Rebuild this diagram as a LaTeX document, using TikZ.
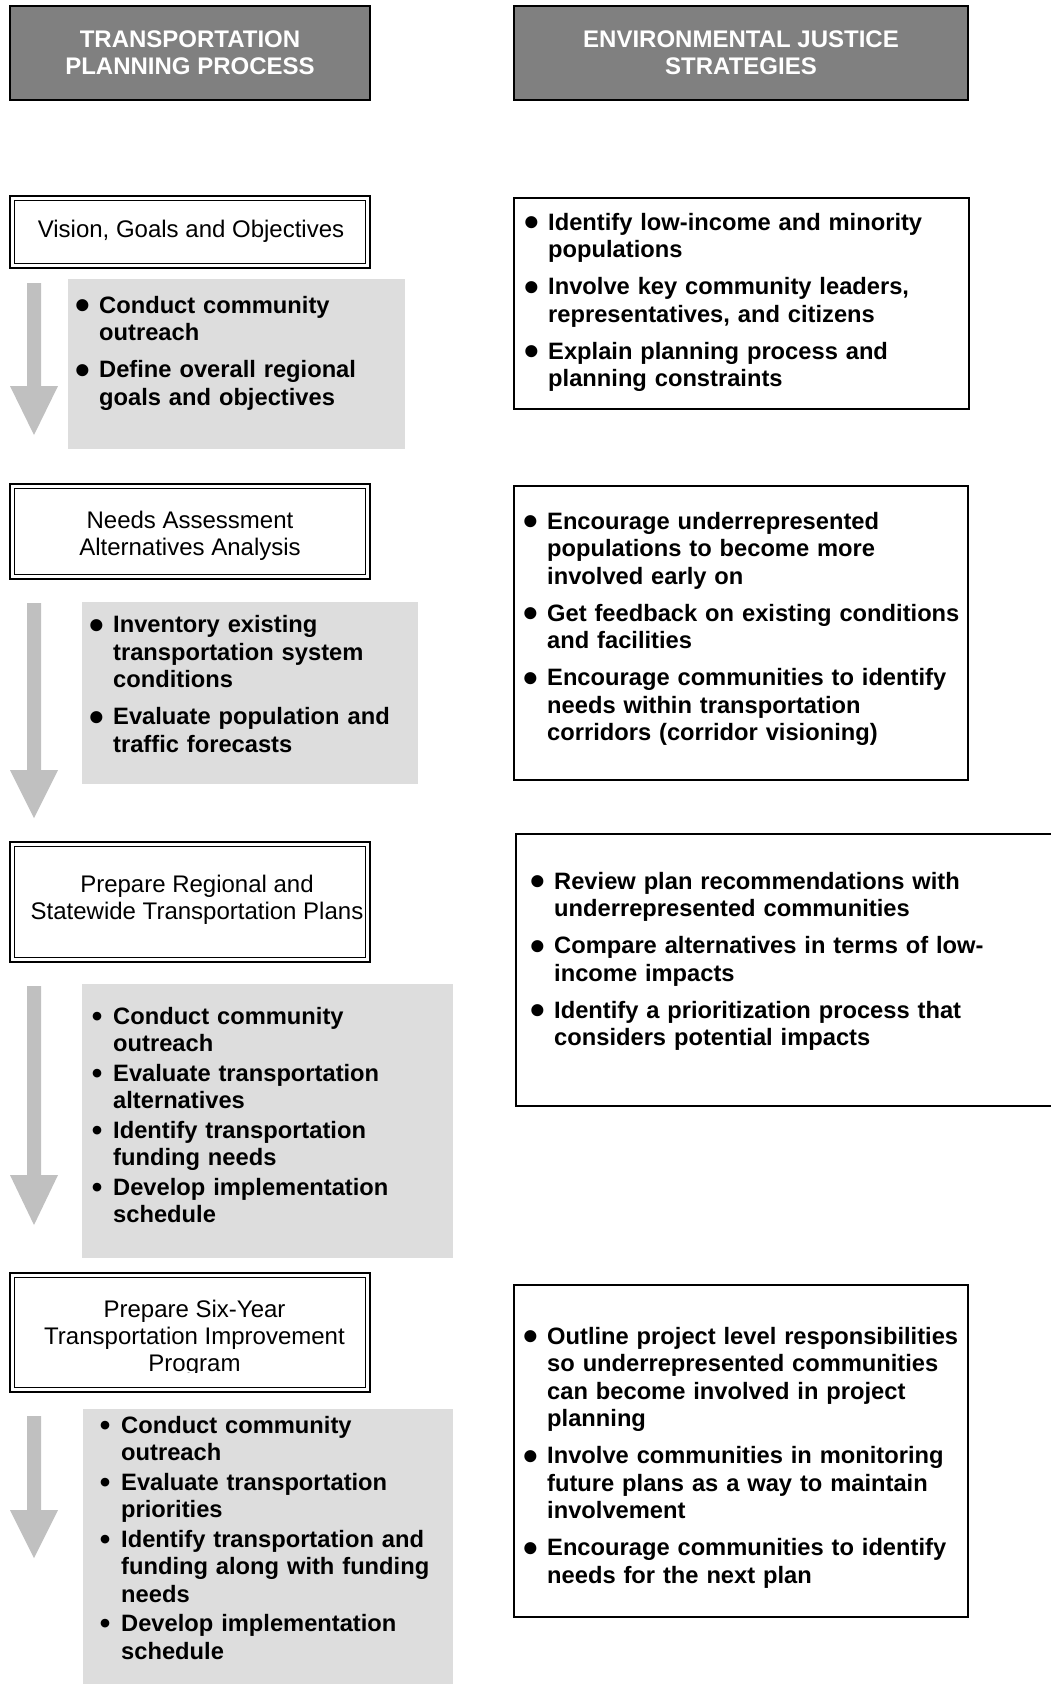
\documentclass[tikz,border=0pt]{standalone}
\usepackage{fontspec}
\setmainfont{Liberation Sans}
\usepackage{tikz}
\usetikzlibrary{positioning}
\definecolor{THead}{HTML}{808080}
\definecolor{TPanel}{HTML}{DDDDDD}
\definecolor{TArrow}{HTML}{C0C0C0}
\newlength{\bulletgap}\setlength{\bulletgap}{24pt}
\newcommand{\bigdot}{\smash{\raisebox{-6.6pt}{\fontsize{42pt}{42pt}\selectfont\textbullet}}}
\newcommand{\smalldot}{\smash{\raisebox{-2.2pt}{\fontsize{30pt}{30pt}\selectfont\textbullet}}}
\newcommand{\litem}[2][\bigdot]{% [bullet]{lines, split by \newline}
  \par\noindent\hangindent=\bulletgap\hangafter=1
  \makebox[\bulletgap][l]{\makebox[16pt][c]{#1}}#2\par}

\begin{document}
\begin{tikzpicture}[x=1pt,y=-1pt,
  headbox/.style={draw=black,line width=2pt,fill=THead,text=white,align=center,
    inner sep=0pt,font=\fontsize{24pt}{27pt}\selectfont\bfseries},
  procbox/.style={draw=black,line width=1.6pt,double=white,double distance=3pt,
    inner sep=0pt,minimum width=355.8pt},
  proclabel/.style={anchor=north,align=center,inner sep=0pt,
    font=\fontsize{24pt}{27pt}\selectfont},
  panel/.style={fill=TPanel,inner sep=0pt},
  ejbox/.style={draw=black,line width=1.6pt,inner sep=0pt},
  itemlist/.style={anchor=north west,inner sep=0pt,text width=520pt,align=left,
    font=\fontsize{23.7pt}{27.5pt}\selectfont\bfseries,
    execute at begin node={\setlength{\parskip}{9.5pt}}},
  steplist/.style={itemlist,execute at begin node={\setlength{\parskip}{2pt}}},
  flowarrow/.style={fill=TArrow}]

  \fill[white] (0,0) rectangle (1050,1684);
  \useasboundingbox (0,0) rectangle (1050,1684);

  % column headers
  \node[headbox,minimum width=360pt,minimum height=94pt] (tpp) at (190,53)
    {TRANSPORTATION\\PLANNING PROCESS};
  \node[headbox,minimum width=454pt,minimum height=94pt] (ejs) at (741,53)
    {ENVIRONMENTAL JUSTICE\\STRATEGIES};

  % grey panels
  \node[panel,minimum width=337pt,minimum height=170pt] (visionpnl) at (236.5,364) {};
  \node[panel,minimum width=336pt,minimum height=182pt] (needspnl) at (250,693) {};
  \node[panel,minimum width=371pt,minimum height=274pt] (planspnl) at (267.5,1121) {};
  \node[panel,minimum width=370pt,minimum height=281pt] (tippnl) at (268,1549.5) {};

  % block arrows
  \foreach \ytop/\yneck/\ytip in {283/386/435,603/770/818,986/1175/1225,1416/1510/1558}
    \fill[flowarrow] (27,\ytop) -- (41,\ytop) -- (41,\yneck) -- (58,\yneck)
      -- (34,\ytip) -- (10,\yneck) -- (27,\yneck) -- cycle;

  % process steps
  \node[procbox,minimum height=67.8pt] (vision) at (190,232) {};
  \node[procbox,minimum height=90.8pt] (needs) at (190,531.5) {};
  \node[procbox,minimum height=115.8pt] (plans) at (190,902) {};
  \node[procbox,minimum height=114.8pt] (tip) at (190,1332.5) {};

  \node[proclabel] (visionlbl) at (191,219.5) {Vision, Goals and Objectives};
  \node[proclabel] (needslbl) at (190,510.8) {Needs Assessment\\Alternatives Analysis};
  \node[proclabel] (planslbl) at (197,875.2)
    {Prepare Regional and\\Statewide Transportation Plans};
  \begin{scope}
    \clip (20,1285) rectangle (360,1372);
    \node[proclabel] (tiplbl) at (194.5,1299.7)
      {Prepare Six-Year\\Transportation Improvement\\Program};
  \end{scope}

  % strategy boxes
  \node[ejbox,minimum width=455.4pt,minimum height=211.4pt] (visionej) at (741.5,303.5) {};
  \node[ejbox,minimum width=454.4pt,minimum height=294.4pt] (needsej) at (741,633) {};
  \node[ejbox,minimum width=545.4pt,minimum height=272.4pt] (plansej) at (788.5,970) {};
  \node[ejbox,minimum width=454.4pt,minimum height=332.4pt] (tipej) at (741,1451) {};

  % bullet lists
  \node[itemlist] (visionlist) at (75,276) {%
    \litem{Conduct community\newline outreach}
    \litem{Define overall regional\newline goals and objectives}};
  \node[itemlist] (visionejlist) at (524,193) {%
    \litem{Identify low-income and minority\newline populations}
    \litem{Involve key community leaders,\newline representatives, and citizens}
    \litem{Explain planning process and\newline planning constraints}};

  \node[itemlist] (needslist) at (89,595.5) {%
    \litem{Inventory existing\newline transportation system\newline conditions}
    \litem{Evaluate population and\newline traffic forecasts}};
  \node[itemlist] (needsejlist) at (523,492) {%
    \litem{Encourage underrepresented\newline populations to become more\newline involved early on}
    \litem{Get feedback on existing conditions\newline and facilities}
    \litem{Encourage communities to identify\newline needs within transportation\newline corridors (corridor visioning)}};

  \node[steplist] (planslist) at (89,994.5) {%
    \litem[\smalldot]{Conduct community\newline outreach}
    \litem[\smalldot]{Evaluate transportation\newline alternatives}
    \litem[\smalldot]{Identify transportation\newline funding needs}
    \litem[\smalldot]{Develop implementation\newline schedule}};
  \node[itemlist] (plansejlist) at (530,852) {%
    \litem{Review plan recommendations with\newline underrepresented communities}
    \litem{Compare alternatives in terms of low-\newline income impacts}
    \litem{Identify a prioritization process that\newline considers potential impacts}};

  \node[steplist] (tiplist) at (97,1403.5) {%
    \litem[\smalldot]{Conduct community\newline outreach}
    \litem[\smalldot]{Evaluate transportation\newline priorities}
    \litem[\smalldot]{Identify transportation and\newline funding along with funding\newline needs}
    \litem[\smalldot]{Develop implementation\newline schedule}};
  \node[itemlist] (tipejlist) at (523,1307) {%
    \litem{Outline project level responsibilities\newline so underrepresented communities\newline can become involved in project\newline planning}
    \litem{Involve communities in monitoring\newline future plans as a way to maintain\newline involvement}
    \litem{Encourage communities to identify\newline needs for the next plan}};
\end{tikzpicture}
\end{document}
